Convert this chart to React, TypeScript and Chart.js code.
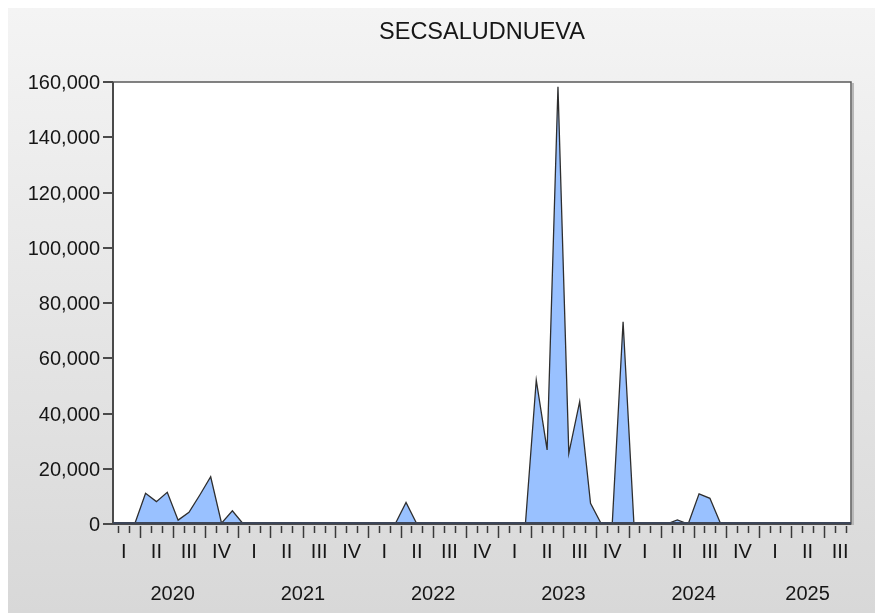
import React, { useEffect, useRef } from "react";
import { Chart, registerables } from "chart.js";

Chart.register(...registerables);

const title = "SECSALUDNUEVA";
const years = ["2020", "2021", "2022", "2023", "2024", "2025"];
const quarterNames = ["I", "II", "III", "IV"];
const monthsInLastYear = 9;
const yTicks = [0, 20000, 40000, 60000, 80000, 100000, 120000, 140000, 160000];

const values2020 = [0, 0, 0, 11100, 8100, 11500, 1400, 4200, 10500, 17100, 300, 4800];
const values2021 = [0, 0, 0, 0, 0, 0, 0, 0, 0, 0, 0, 0];
const values2022 = [0, 0, 0, 7800, 0, 0, 0, 0, 0, 0, 0, 0];
const values2023 = [0, 0, 0, 52100, 26800, 158300, 25600, 44300, 7500, 0, 0, 73200];
const values2024 = [0, 0, 0, 0, 1500, 0, 10900, 9300, 0, 0, 0, 0];
const values2025 = [0, 0, 0, 0, 0, 0, 0, 0, 0];

const values = [
  ...values2020,
  ...values2021,
  ...values2022,
  ...values2023,
  ...values2024,
  ...values2025,
];

const monthLabels: string[] = [];
years.forEach((y, yi) => {
  const n = yi === years.length - 1 ? monthsInLastYear : 12;
  for (let m = 1; m <= n; m++) monthLabels.push(`${y}M${String(m).padStart(2, "0")}`);
});

const FONT = "'Liberation Sans', Arial, sans-serif";
const TEXT = "#161616";

const eviewsPlugin = {
  id: "eviewsDecor",
  beforeDraw(chart: any) {
    const { ctx, width, height, chartArea } = chart;
    ctx.save();
    const g = ctx.createLinearGradient(0, 0, 0, height);
    g.addColorStop(0, "#f4f4f4");
    g.addColorStop(1, "#d8d8d8");
    ctx.fillStyle = g;
    ctx.fillRect(0, 0, width, height);
    ctx.fillStyle = "#ffffff";
    ctx.fillRect(chartArea.left, chartArea.top, chartArea.right - chartArea.left, chartArea.bottom - chartArea.top);
    ctx.restore();
  },
  afterDraw(chart: any) {
    const { ctx, chartArea } = chart;
    const xs = chart.scales.x;
    const ys = chart.scales.y;
    const { left, right, top, bottom } = chartArea;
    ctx.save();

    // frame shadow on right
    ctx.strokeStyle = "#b8b8b8";
    ctx.lineWidth = 2;
    ctx.beginPath();
    ctx.moveTo(right + 2, top + 1);
    ctx.lineTo(right + 2, bottom + 1);
    ctx.stroke();

    // frame
    ctx.strokeStyle = "#5a5a5a";
    ctx.lineWidth = 1.5;
    ctx.strokeRect(left, top, right - left, bottom - top);
    ctx.strokeStyle = "#4a4a4a";
    ctx.lineWidth = 2;
    ctx.beginPath();
    ctx.moveTo(left, top);
    ctx.lineTo(left, bottom);
    ctx.lineTo(right, bottom);
    ctx.stroke();
    ctx.strokeStyle = "#3d4658";
    ctx.lineWidth = 2;
    ctx.beginPath();
    ctx.moveTo(left, bottom - 1);
    ctx.lineTo(right, bottom - 1);
    ctx.stroke();

    // y ticks and labels
    ctx.strokeStyle = "#4a4a4a";
    ctx.lineWidth = 2;
    ctx.fillStyle = TEXT;
    ctx.font = `20px ${FONT}`;
    ctx.textAlign = "right";
    ctx.textBaseline = "middle";
    yTicks.forEach((v) => {
      const y = Math.round(ys.getPixelForValue(v));
      ctx.beginPath();
      ctx.moveTo(left - 10, y);
      ctx.lineTo(left, y);
      ctx.stroke();
      ctx.fillText(v.toLocaleString("en-US"), left - 13, y + 1);
    });

    // x ticks at month boundaries
    const n = monthLabels.length;
    ctx.lineWidth = 1.5;
    ctx.strokeStyle = "#3a3a3a";
    for (let i = 0; i < n - 1; i++) {
      const x = Math.round(xs.getPixelForValue(i + 0.5)) + 0.5;
      const isQuarter = (i + 1) % 3 === 0;
      ctx.beginPath();
      ctx.moveTo(x, bottom + 2);
      ctx.lineTo(x, bottom + (isQuarter ? 14 : 9));
      ctx.stroke();
    }

    // quarter labels
    ctx.font = `20px ${FONT}`;
    ctx.textAlign = "center";
    ctx.textBaseline = "middle";
    for (let i = 0; i < n; i++) {
      if (i % 3 === 1) {
        const q = Math.floor((i % 12) / 3);
        ctx.fillText(quarterNames[q], xs.getPixelForValue(i), bottom + 28);
      }
    }

    // year labels
    years.forEach((y, yi) => {
      const start = yi * 12;
      const end = Math.min(start + 11, n - 1);
      const c = (start + end) / 2;
      ctx.fillText(y, xs.getPixelForValue(c), bottom + 70);
    });

    // title
    ctx.font = `23.5px ${FONT}`;
    ctx.fillText(title, (left + right) / 2, 25);

    ctx.restore();
  },
};

export default function App() {
  const ref = useRef<HTMLCanvasElement | null>(null);
  useEffect(() => {
    if (!ref.current) return;
    const chart = new Chart(ref.current, {
      type: "line",
      data: {
        labels: monthLabels,
        datasets: [
          {
            data: values,
            fill: "origin",
            backgroundColor: "#99c1ff",
            borderColor: "#2e2e2e",
            borderWidth: 1.3,
            pointRadius: 0,
            tension: 0,
          },
        ],
      },
      options: {
        animation: false,
        responsive: false,
        devicePixelRatio: 1,
        layout: { padding: { left: 105, top: 74, right: 32, bottom: 89 } },
        plugins: { legend: { display: false }, title: { display: false }, tooltip: { enabled: false } },
        scales: {
          x: { type: "category", display: false, offset: false },
          y: { type: "linear", display: false, min: 0, max: 160000 },
        },
      },
      plugins: [eviewsPlugin],
    });
    return () => chart.destroy();
  }, []);
  return <canvas ref={ref} width={875} height={605} style={{ display: "block" }} />;
}
